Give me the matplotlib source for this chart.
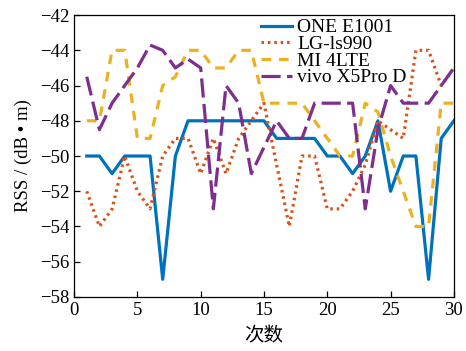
import numpy as np
import matplotlib
matplotlib.use('Agg')
import matplotlib.pyplot as plt

plt.rcParams['font.family'] = ['Liberation Serif', 'Noto Sans CJK SC']

runs = np.arange(1, 31)
one_e1001 = [-50, -50, -51, -50, -50, -50, -57, -50, -48, -48, -48, -48, -48, -48, -48,
             -49, -49, -49, -49, -50, -50, -51, -50, -48, -52, -50, -50, -57, -49, -48]
lg_ls990 = [-52, -54, -53, -50, -52, -53, -50, -49, -49, -51, -49, -51, -49, -48, -47,
            -50.5, -54, -50, -50, -53, -53, -52, -50.5, -48, -48.5, -49, -44, -44, -46, -45]
mi_4lte = [-48, -48, -44, -44, -49, -49, -46, -45.5, -44, -44, -45, -45, -44, -44, -47,
           -47, -47, -47, -48, -49, -50, -50, -47, -47.5, -50, -52, -54, -54, -47, -47]
vivo_x5pro = [-45.5, -48.5, -47, -46, -45, -43.7, -44, -45, -44.5, -45, -53, -46, -47, -51, -49.5,
              -48, -49, -49, -47, -47, -47, -47, -53, -48.5, -46, -47, -47, -47, -46, -45]

fig = plt.figure(figsize=(4.66, 3.51), dpi=100)
ax = fig.add_axes([0.159, 0.154, 0.815, 0.803])

ax.plot(runs, one_e1001, color='#0072BD', lw=2.3, ls='-', label='ONE E1001')
ax.plot(runs, lg_ls990, color='#D95319', lw=2.3, ls=(0, (0.8, 1.2)), label='LG-ls990')
ax.plot(runs, mi_4lte, color='#EDB120', lw=2.3, ls=(0, (3, 2.5)), label='MI 4LTE')
ax.plot(runs, vivo_x5pro, color='#7E2F8E', lw=2.3, ls=(0, (6, 2)), label='vivo X5Pro D')

ax.set_xlim(0, 30)
ax.set_ylim(-58, -42)
ax.set_xticks(range(0, 31, 5))
ax.set_yticks(range(-58, -41, 2))
ax.tick_params(direction='in', labelsize=13.5, length=4, width=0.9)
for s in ax.spines.values():
    s.set_linewidth(0.9)

ax.set_ylabel('RSS / (dB \u2022 m)', fontsize=13.5, labelpad=6)
ax.set_xlabel('次数', fontsize=14, labelpad=5, family=['Noto Sans CJK SC'])

ax.legend(loc='upper left', bbox_to_anchor=(0.455, 1.035), frameon=False, fontsize=14,
          handlelength=1.6, handletextpad=0.3, labelspacing=-0.05, borderpad=0.2)

fig.savefig('out.png', dpi=100)
